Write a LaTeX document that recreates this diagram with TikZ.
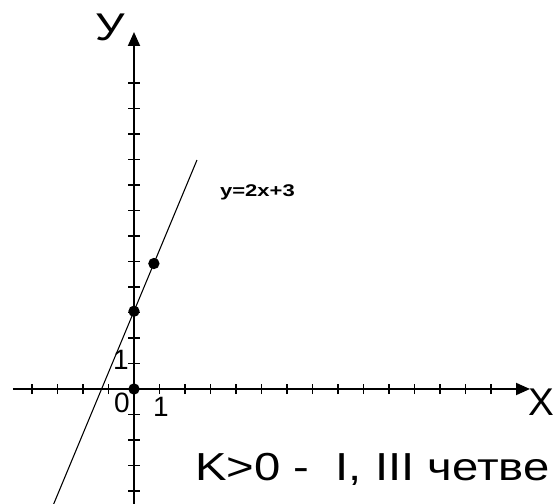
\documentclass[tikz,border=0pt]{standalone}
\usepackage{fontspec}
\setmainfont{Liberation Sans}
\usetikzlibrary{positioning, arrows.meta}

\begin{document}
\begin{tikzpicture}[
    x=19.125pt, y=19.125pt,
    axis/.style={line width=1.4pt, -{Triangle[length=10.5pt, width=9pt]}},
    tick/.style={line width=1.2pt},
    graph/.style={line width=0.8pt},
    pt/.style={circle, fill=black, inner sep=0pt, minimum size=8.5pt},
    axlabel/.style={font=\fontsize{29}{34}\selectfont, inner sep=0pt},
    num/.style={font=\fontsize{21}{25}\selectfont, inner sep=0pt},
    note/.style={font=\fontsize{29.3}{35}\selectfont, inner sep=0pt}
]
\useasboundingbox (-5.255,-4.471) rectangle (16.510,15.255);

% Axes
\coordinate (O) at (0,0);
\coordinate (xl) at (-4.75,0);
\coordinate (xr) at (15.53,0);
\coordinate (yb) at (0,-4.6);
\coordinate (yt) at (0,14.0);
\draw[axis] (xl) -- (xr);
\draw[axis] (yb) -- (yt);

% Ticks
\foreach \i in {-4,...,-1,1,2,...,14}
  \draw[tick] (\i,-0.2) -- (\i,0.2);
\foreach \j in {-4,...,-1,1,2,...,12}
  \draw[tick] (-0.22,\j) -- (0.22,\j);

% Axis labels
\node[axlabel] (ylab) at (-0.94,14.18) {\scalebox{1.2}[1]{У}};
\node[axlabel, anchor=east] (xlab) at (16.49,-0.51) {X};

% Graph of the line and its points
\coordinate (la) at (-3.2,-4.63);
\coordinate (lt) at (2.47,8.98);
\draw[graph] (la) -- (lt);
\node[pt] (p0) at (O) {};
\node[pt] (p3) at (0,3.05) {};
\node[pt] (p5) at (0.78,4.92) {};

% Numbers on the axes
\node[num] (oney) at (-0.51,1.14) {1};
\node[num] (zero) at (-0.47,-0.55) {0};
\node[num] (onex) at (1.06,-0.71) {1};

% Equation and note
\node[font=\bfseries\fontsize{12.7}{15}\selectfont] (eq) at (4.84,7.71) {\scalebox{1.3}[1]{y=2x+3}};
\node[note, anchor=base west] (note) at (2.39,-3.57) {\scalebox{1.21}[1]{K>0 -~ I, III четве}};

\end{tikzpicture}
\end{document}
